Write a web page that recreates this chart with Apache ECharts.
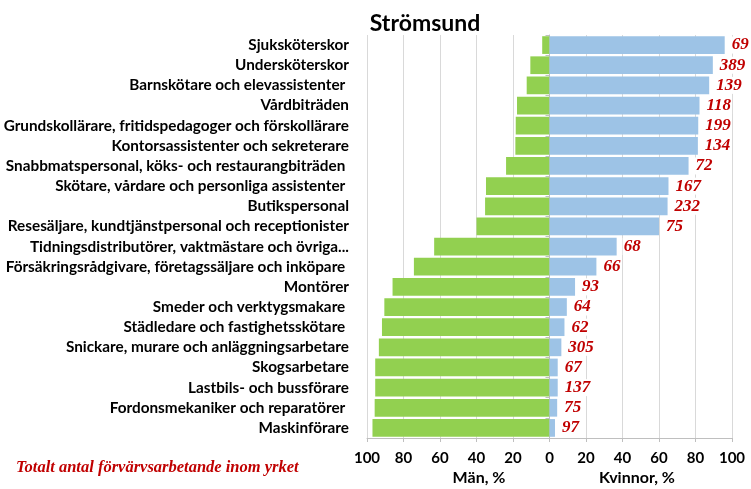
<!DOCTYPE html>
<html>
<head>
<meta charset="utf-8">
<script src="https://cdn.jsdelivr.net/npm/echarts@6/dist/echarts.min.js"></script>
<style>html,body{margin:0;padding:0;background:#fff}#c{width:751px;height:489px}</style>
</head>
<body>
<div id="c"></div>
<script>
const categories = [
  "Sjuksköterskor",
  "Undersköterskor",
  "Barnskötare och elevassistenter ",
  "Vårdbiträden",
  "Grundskollärare, fritidspedagoger och förskollärare",
  "Kontorsassistenter och sekreterare",
  "Snabbmatspersonal, köks- och restaurangbiträden ",
  "Skötare, vårdare och personliga assistenter ",
  "Butikspersonal",
  "Resesäljare, kundtjänstpersonal och receptionister",
  "Tidningsdistributörer, vaktmästare och övriga...",
  "Försäkringsrådgivare, företagssäljare och inköpare ",
  "Montörer",
  "Smeder och verktygsmakare ",
  "Städledare och fastighetsskötare ",
  "Snickare, murare och anläggningsarbetare",
  "Skogsarbetare",
  "Lastbils- och bussförare",
  "Fordonsmekaniker och reparatörer ",
  "Maskinförare"
];
const menPct = [4, 10.5, 12.5, 17.8, 18.5, 18.7, 23.8, 34.8, 35.3, 40, 63.2, 74.3, 86, 90.5, 91.8, 93.5, 95.5, 95.5, 95.8, 97];
const womenPct = [96, 89.5, 87.5, 82.2, 81.5, 81.3, 76.2, 65.2, 64.7, 60, 36.8, 25.7, 14, 9.5, 8.2, 6.5, 4.5, 4.5, 4.2, 3];
const totals = [69, 389, 139, 118, 199, 134, 72, 167, 232, 75, 68, 66, 93, 64, 62, 305, 67, 137, 75, 97];
const xTicks = [-100, 100, 20];
const titleText = "Strömsund";
const menTitle = "Män, %";
const womenTitle = "Kvinnor, %";
const noteText = "Totalt antal förvärvsarbetande inom yrket";

const SANS = "Lato, 'Open Sans', sans-serif";
const SERIF = "'Liberation Serif', 'Times New Roman', serif";
const chart = echarts.init(document.getElementById('c'), null, {renderer: 'canvas'});
chart.setOption({
  animation: false,
  backgroundColor: '#fff',
  title: {
    text: titleText, left: 420, top: 7, textAlign: 'center',
    textStyle: {fontFamily: SANS, fontWeight: 'bold', fontSize: 23, color: '#000'}
  },
  grid: {left: 367, right: 19, top: 35, bottom: 51, containLabel: false},
  xAxis: {
    type: 'value', min: xTicks[0], max: xTicks[1], interval: xTicks[2],
    axisLine: {show: true, onZero: false, lineStyle: {color: '#bfbfbf'}},
    axisTick: {show: true, length: 4, lineStyle: {color: '#bfbfbf'}},
    splitLine: {show: true, lineStyle: {color: '#d9d9d9', width: 1}},
    axisLabel: {
      formatter: v => String(Math.abs(v)), margin: 13,
      fontFamily: SANS, fontWeight: 'bold', fontSize: 15, color: '#000'
    }
  },
  yAxis: [{
    type: 'category', data: categories, inverse: true,
    axisLine: {show: false, onZero: false},
    axisTick: {show: false},
    axisLabel: {margin: 18, fontFamily: SANS, fontWeight: 'bold', fontSize: 15.3, color: '#000', interval: 0}
  }, {
    type: 'category', data: categories, inverse: true, position: 'left',
    axisLine: {show: true, onZero: true, lineStyle: {color: '#bfbfbf'}},
    axisTick: {show: true, length: 4, lineStyle: {color: '#bfbfbf'}},
    axisLabel: {show: false}
  }],
  series: [{
    name: menTitle, type: 'bar', yAxisIndex: 0,
    data: menPct.map(v => -v),
    barCategoryGap: '12%', barGap: '-100%',
    itemStyle: {color: '#92d050'}
  }, {
    name: womenTitle, type: 'bar', yAxisIndex: 0,
    data: womenPct,
    barCategoryGap: '12%', barGap: '-100%',
    itemStyle: {color: '#9dc3e6'},
    label: {
      show: true, position: 'right', distance: 6,
      formatter: p => String(totals[p.dataIndex]),
      fontFamily: SERIF, fontWeight: 'bold', fontStyle: 'italic',
      fontSize: 17, color: '#c00000', backgroundColor: '#fff', padding: [0, 1]
    }
  }],
  graphic: [
    {type: 'text', x: 479, y: 470, style: {text: menTitle, font: "bold 16px " + SANS, fill: '#000', textAlign: 'center'}},
    {type: 'text', x: 637, y: 470, style: {text: womenTitle, font: "bold 16px " + SANS, fill: '#000', textAlign: 'center'}},
    {type: 'text', x: 16, y: 459, style: {text: noteText, font: "italic bold 16.5px " + SERIF, fill: '#c00000'}}
  ]
});
</script>
</body>
</html>
